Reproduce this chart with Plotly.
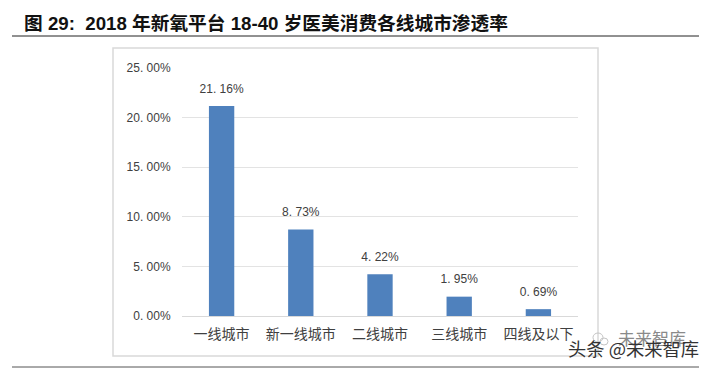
import plotly.graph_objects as go

categories = ["一线城市", "新一线城市", "二线城市", "三线城市", "四线及以下"]
values = [21.16, 8.73, 4.22, 1.95, 0.69]
value_labels = ["21. 16%", "8. 73%", "4. 22%", "1. 95%", "0. 69%"]
y_ticks = [0, 5, 10, 15, 20, 25]
y_tick_labels = ["0. 00%", "5. 00%", "10. 00%", "15. 00%", "20. 00%", "25. 00%"]
title_text = "图 29:  2018 年新氧平台 18-40 岁医美消费各线城市渗透率"

CJK = "Liberation Sans, Noto Sans CJK SC"
PW, PH = 396, 248  # plot area size

fig = go.Figure()
fig.add_trace(go.Bar(
    x=categories, y=values, width=0.32,
    marker=dict(color="#4f81bd", line=dict(width=0)),
    hoverinfo="skip",
))
fig.add_trace(go.Scatter(
    x=categories, y=values, mode="markers+text",
    marker=dict(size=15, opacity=0),
    text=value_labels, textposition="top center", cliponaxis=False,
    textfont=dict(family=CJK, size=12, color="#404040"),
))


def px(x):
    return (x - 174) / PW


def py(y):
    return (308 - y) / PH


fig.update_layout(
    width=699, height=361, showlegend=False,
    margin=dict(l=174, r=129, t=60, b=53),
    paper_bgcolor="white", plot_bgcolor="white",
    font=dict(family=CJK),
    xaxis=dict(showgrid=False, showline=True, linecolor="#d9d9d9", linewidth=1,
               ticks="outside", ticklen=5, tickcolor="rgba(0,0,0,0)",
               tickfont=dict(family="Noto Sans CJK SC", size=14, color="#404040")),
    yaxis=dict(range=[0, 25], tickvals=y_ticks, ticktext=y_tick_labels,
               gridcolor="#e3e3e3", gridwidth=1, zeroline=False, showline=False,
               ticks="outside", ticklen=8, tickcolor="rgba(0,0,0,0)",
               tickfont=dict(family=CJK, size=12, color="#404040")),
    shapes=[
        dict(type="rect", xref="paper", yref="paper",
             x0=px(105), x1=px(590), y0=py(348), y1=py(40),
             line=dict(color="#d9d9d9", width=1.5), fillcolor="rgba(0,0,0,0)", layer="below"),
        dict(type="line", xref="paper", yref="paper",
             x0=px(4), x1=px(697), y0=py(28), y1=py(28),
             line=dict(color="#222222", width=1)),
        dict(type="line", xref="paper", yref="paper",
             x0=px(4), x1=px(697), y0=py(359), y1=py(359),
             line=dict(color="#555555", width=1)),
        dict(type="circle", xref="paper", yref="paper",
             x0=px(585), x1=px(595), y0=py(334), y1=py(325),
             line=dict(color="#c4c4c4", width=1)),
        dict(type="circle", xref="paper", yref="paper",
             x0=px(592), x1=px(600), y0=py(337), y1=py(330),
             line=dict(color="#c4c4c4", width=1)),
    ],
    annotations=[
        dict(text="<b>" + title_text + "</b>", xref="paper", yref="paper",
             x=px(14), y=py(15), xanchor="left", yanchor="middle", showarrow=False,
             font=dict(family=CJK, size=18.7, color="#111111")),
        dict(text="未来智库", xref="paper", yref="paper",
             x=px(608), y=py(329), xanchor="left", yanchor="middle", showarrow=False,
             font=dict(family="Noto Sans CJK SC", size=17, color="#8a8a8a")),
        dict(text="头条 @未来智库", xref="paper", yref="paper",
             x=px(558), y=py(340), xanchor="left", yanchor="middle", showarrow=False,
             font=dict(family="Noto Sans CJK SC", size=18.3, color="#333333")),
    ],
)
fig.write_html("out.html")
